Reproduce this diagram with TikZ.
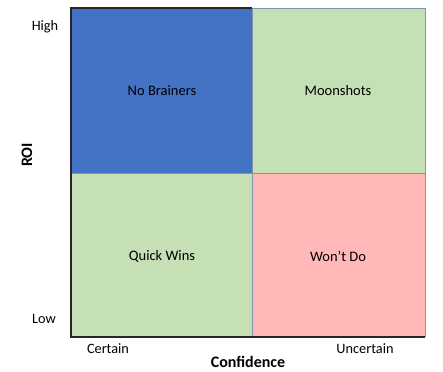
\documentclass[tikz,border=0pt]{standalone}
\usepackage{fontspec}
\setmainfont{Carlito}
\definecolor{qblue}{HTML}{4472C4}
\definecolor{qgreen}{HTML}{C5E0B4}
\definecolor{qpink}{HTML}{FFB7B7}
\definecolor{qedge}{HTML}{7F95B0}
\begin{document}
\begin{tikzpicture}[x=1pt,y=-1pt,
  qlabel/.style={font=\fontsize{14.5}{16}\selectfont,text=black},
  axlabel/.style={font=\fontsize{14.3}{16}\selectfont,text=black},
  axtitle/.style={font=\bfseries\fontsize{16}{18}\selectfont,text=black}]
\useasboundingbox (0,0) rectangle (443,371);
\fill[white] (0,0) rectangle (443,371);
% quadrants
\fill[qblue] (71,8) rectangle (252,173);
\fill[qgreen] (252,8) rectangle (425,173);
\fill[qgreen] (71,173) rectangle (252,337);
\fill[qpink] (252,173) rectangle (425,337);
\draw[qedge,line width=0.8pt] (252,8) -- (252,337) (71,173) -- (425,173) (425,8) -- (425,337) (252,8) -- (425,8);
\draw[black!85,line width=1.3pt] (252,8) -- (71,8) -- (71,337) -- (425,337);
% labels
\node[qlabel] (nb) at (162,91) {No Brainers};
\node[qlabel] (ms) at (338,91) {Moonshots};
\node[qlabel] (qw) at (162,256) {Quick Wins};
\node[qlabel] (wd) at (338,256) {Won’t Do};
\node[axlabel] (hi) at (45,27) {High};
\node[axlabel] (lo) at (44,319) {Low};
\node[axlabel] (ce) at (108,349) {Certain};
\node[axlabel] (un) at (365,349) {Uncertain};
\node[axtitle] (cf) at (248,362) {Confidence};
\node[axtitle,rotate=90] (roi) at (27,155) {ROI};
\end{tikzpicture}
\end{document}
